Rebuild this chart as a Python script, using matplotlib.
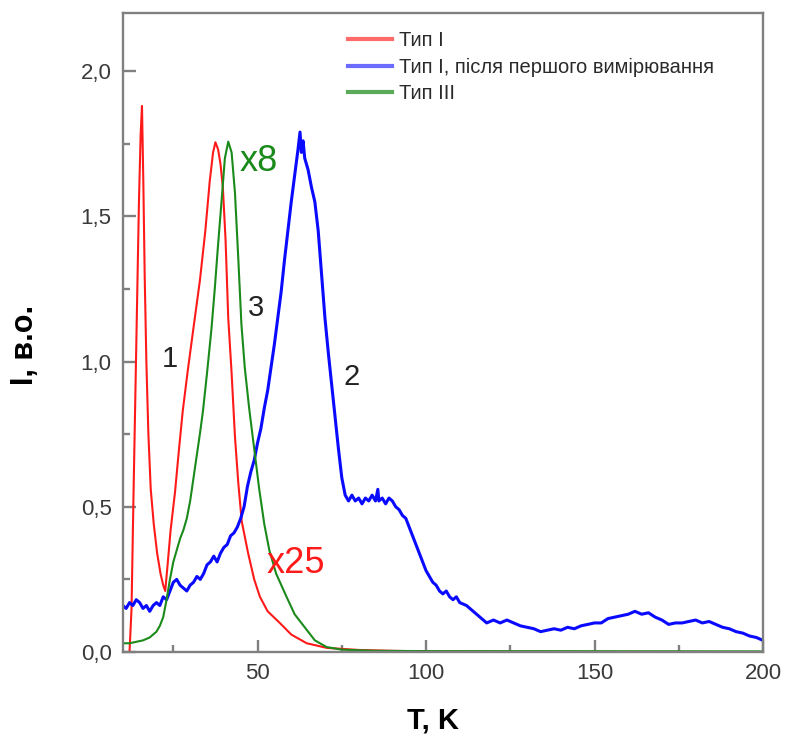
import matplotlib
matplotlib.use("Agg")
import matplotlib.pyplot as plt
from matplotlib.ticker import MultipleLocator, FuncFormatter

plt.rcParams['font.family'] = ['Liberation Sans', 'DejaVu Sans']

# Тип I
red_t = [12.0, 12.6, 13.2, 14.0, 14.8, 15.3, 15.7, 16.1, 16.5, 17.0, 17.6, 18.3, 19.2, 20.2,
         21.2, 22.0, 22.6, 23.3, 24.2, 25.5, 26.7, 27.8, 29.3, 30.8, 32.9, 34.5, 35.8, 36.8,
         37.5, 38.3, 39.0, 39.7, 40.5, 41.3, 42.3, 43.3, 44.3, 45.3, 47.2, 49.0, 50.7, 53.0,
         56.6, 60.0, 64.6, 70.6, 80.0, 90.0, 100.0, 120.0, 200.0]
red_i = [0.0, 0.15, 0.55, 1.05, 1.55, 1.78, 1.88, 1.62, 1.30, 1.00, 0.75, 0.56, 0.44, 0.34,
         0.27, 0.23, 0.21, 0.30, 0.42, 0.55, 0.70, 0.83, 0.97, 1.10, 1.28, 1.45, 1.62, 1.72,
         1.755, 1.73, 1.68, 1.60, 1.42, 1.15, 0.96, 0.74, 0.58, 0.45, 0.34, 0.25, 0.19, 0.14,
         0.10, 0.06, 0.03, 0.014, 0.007, 0.004, 0.002, 0.001, 0.0]

# Тип I, після першого вимірювання
blue_t = [10, 11, 12, 13, 14, 15, 16, 17, 18, 19, 20, 21, 22, 23, 24, 25, 26, 27, 28, 29,
          30, 31, 32, 33, 34, 35, 36, 37, 38, 39, 40, 41, 42, 43, 44, 45, 46, 47, 48, 49,
          50, 51, 52, 53, 54, 55, 56, 57, 58, 59, 60, 61, 62, 62.6, 63, 63.5, 64, 65, 66,
          67, 68, 69, 70, 71, 72, 73, 74, 75, 76, 77, 78, 79, 80, 81, 82, 83, 84, 85, 85.7,
          86, 87, 88, 89, 90, 91, 92, 93, 94, 95, 96, 97, 98, 99, 100, 101, 102, 103, 104,
          105, 106, 107, 108, 109, 110, 112, 114, 116, 118, 120, 122, 124, 126, 128, 130,
          132, 134, 136, 138, 140, 142, 144, 146, 148, 150, 152, 154, 156, 158, 160, 162,
          164, 166, 168, 170, 172, 174, 176, 178, 180, 182, 184, 186, 188, 190, 192, 194,
          196, 198, 200]
blue_i = [0.16, 0.15, 0.17, 0.16, 0.18, 0.17, 0.15, 0.16, 0.14, 0.16, 0.17, 0.16, 0.19, 0.18,
          0.21, 0.24, 0.25, 0.23, 0.22, 0.21, 0.23, 0.24, 0.26, 0.25, 0.27, 0.30, 0.31, 0.33,
          0.31, 0.34, 0.36, 0.37, 0.40, 0.41, 0.43, 0.46, 0.50, 0.57, 0.62, 0.66, 0.72, 0.77,
          0.84, 0.90, 0.98, 1.06, 1.15, 1.24, 1.35, 1.45, 1.55, 1.64, 1.73, 1.79, 1.72, 1.76,
          1.70, 1.66, 1.60, 1.55, 1.45, 1.30, 1.15, 1.03, 0.92, 0.81, 0.70, 0.60, 0.54, 0.52,
          0.54, 0.52, 0.53, 0.51, 0.53, 0.52, 0.54, 0.52, 0.56, 0.52, 0.53, 0.51, 0.53, 0.52,
          0.50, 0.49, 0.47, 0.46, 0.43, 0.40, 0.37, 0.34, 0.31, 0.28, 0.26, 0.24, 0.23, 0.21,
          0.20, 0.21, 0.19, 0.18, 0.19, 0.17, 0.16, 0.14, 0.12, 0.10, 0.11, 0.10, 0.11, 0.10,
          0.09, 0.085, 0.08, 0.07, 0.075, 0.08, 0.075, 0.085, 0.08, 0.09, 0.095, 0.10, 0.10,
          0.115, 0.12, 0.125, 0.13, 0.14, 0.13, 0.135, 0.12, 0.11, 0.095, 0.10, 0.10, 0.105,
          0.11, 0.10, 0.105, 0.095, 0.085, 0.08, 0.07, 0.065, 0.055, 0.05, 0.04]

# Тип III
green_t = [10, 12, 14, 16, 18, 20, 21, 22, 23, 24, 25, 26, 27, 28, 29, 30, 31, 32, 33, 33.8,
           35, 36.3, 37.3, 38.2, 39.3, 40.3, 41.3, 42.3, 43.3, 44.3, 45.2, 46.2, 47.5, 49,
           50.5, 52, 53.5, 55.5, 58.6, 61, 64.6, 67, 70.5, 75, 85, 100, 200]
green_i = [0.03, 0.03, 0.035, 0.04, 0.05, 0.07, 0.09, 0.12, 0.18, 0.25, 0.31, 0.35, 0.39,
           0.42, 0.46, 0.52, 0.60, 0.68, 0.76, 0.83, 0.96, 1.11, 1.25, 1.39, 1.55, 1.70,
           1.757, 1.72, 1.58, 1.35, 1.13, 0.98, 0.84, 0.70, 0.56, 0.44, 0.35, 0.27, 0.19,
           0.13, 0.076, 0.04, 0.017, 0.008, 0.004, 0.003, 0.002]

labels = ['Тип I', 'Тип I, після першого вимірювання', 'Тип III']

fig = plt.figure(figsize=(7.87, 7.43), dpi=100)
ax = fig.add_axes([0.156, 0.1225, 0.8135, 0.86])

ax.plot(red_t, red_i, color='#ff1a1a', lw=1.5, label=labels[0])
ax.plot(blue_t, blue_i, color='#0a0aff', lw=2.2, label=labels[1])
ax.plot(green_t, green_i, color='#1a8a1a', lw=1.5, label=labels[2])

ax.set_xlim(10, 200)
ax.set_ylim(0, 2.2)
ax.xaxis.set_major_locator(MultipleLocator(50))
ax.xaxis.set_minor_locator(MultipleLocator(25))
ax.yaxis.set_major_locator(MultipleLocator(0.5))
ax.yaxis.set_minor_locator(MultipleLocator(0.25))
ax.yaxis.set_major_formatter(FuncFormatter(lambda v, p: f'{v:.1f}'.replace('.', ',')))
ax.xaxis.set_major_formatter(FuncFormatter(lambda v, p: f'{v:.0f}'))

for s in ax.spines.values():
    s.set_color('#808080')
    s.set_linewidth(1.7)
ax.tick_params(which='both', direction='in', color='#808080', width=1.7,
               labelsize=16, labelcolor='#3a3a3a', top=False, right=False)
ax.tick_params(which='major', length=9, pad=8)
ax.tick_params(which='minor', length=5)

ax.set_xlabel('T, K', fontsize=21, fontweight='bold')
ax.set_ylabel('I, в.о.', fontsize=22, fontweight='bold')
ax.xaxis.set_label_coords(0.484, -0.085)
ax.yaxis.set_label_coords(-0.13, 0.48)

leg = ax.legend(loc='upper left', bbox_to_anchor=(0.3516, 0.972), frameon=False,
                fontsize=14.5, handlelength=2.2, handletextpad=0.35, labelspacing=0.38,
                borderpad=0, borderaxespad=0)
for line, c in zip(leg.get_lines(), ['#ff6b6b', '#6b6bff', '#5aaa5a']):
    line.set_color(c)
    line.set_linewidth(3)
for t in leg.get_texts():
    t.set_color('#2a2a2a')

# curve numbers and scale factors
ax.text(24.0, 1.01, '1', fontsize=21, color='#222222', ha='center', va='center')
ax.text(78.0, 0.947, '2', fontsize=21, color='#222222', ha='center', va='center')
ax.text(49.5, 1.184, '3', fontsize=21, color='#222222', ha='center', va='center')
ax.text(44.7, 1.69, 'x8', fontsize=26, color='#1a8a1a', ha='left', va='center')
ax.text(52.8, 0.305, 'x25', fontsize=26, color='#ff1a1a', ha='left', va='center')

plt.savefig('out.png', dpi=100)
